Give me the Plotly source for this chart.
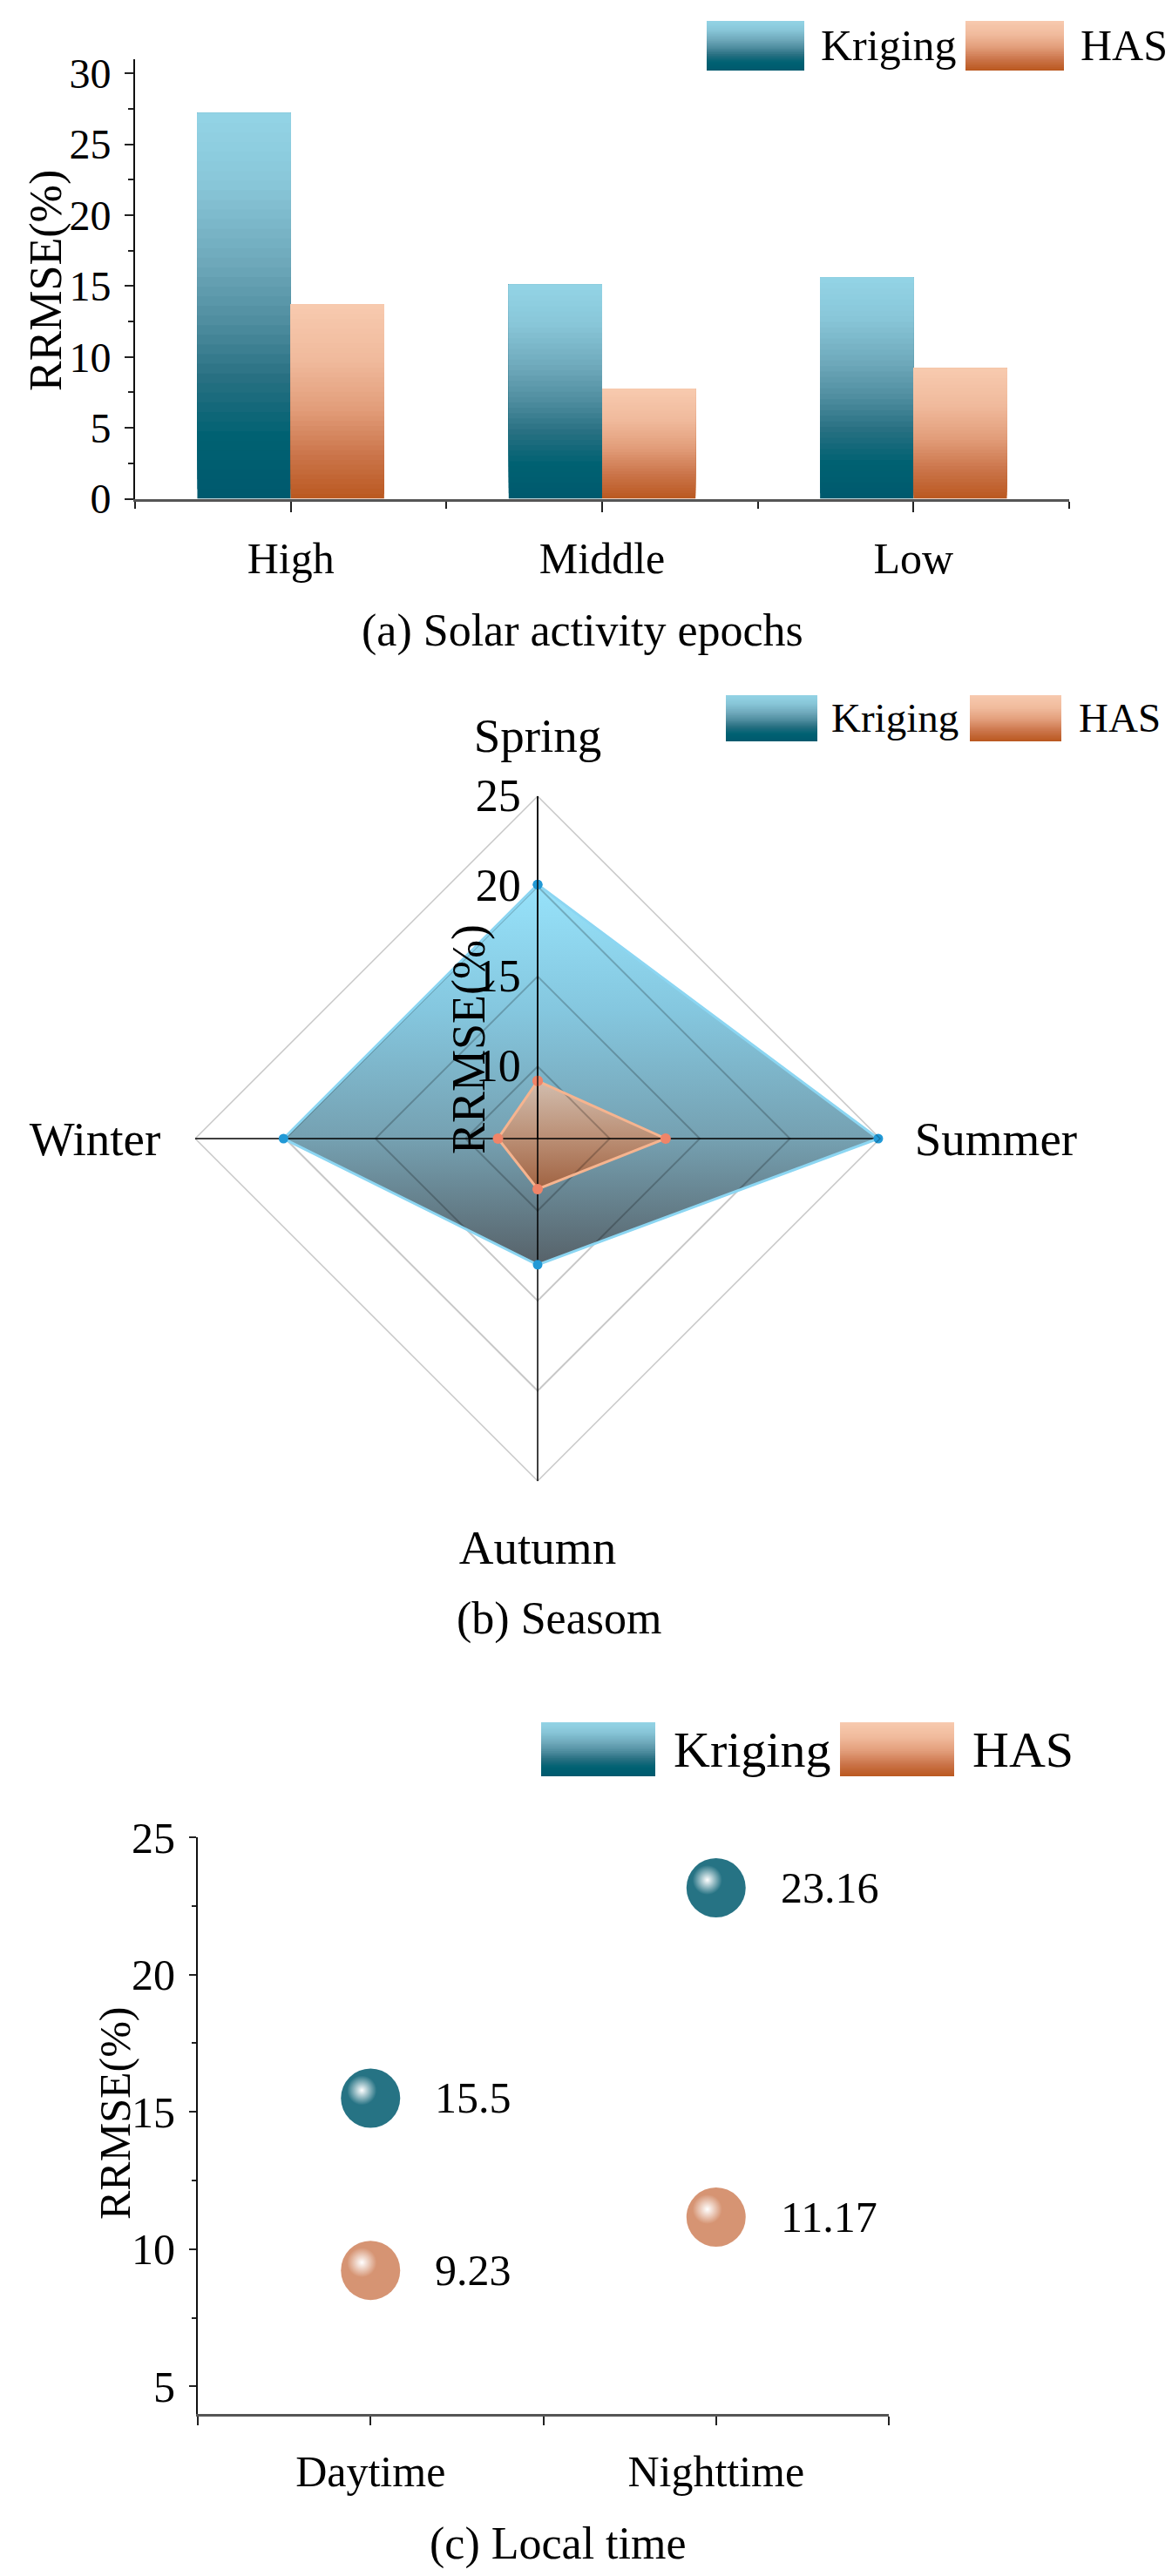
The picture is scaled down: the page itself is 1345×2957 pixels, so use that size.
import math
import plotly.graph_objects as go

W, H = 1345, 2957
FONT = "Liberation Serif"

# (a) Solar activity epochs
EPOCHS = ["High", "Middle", "Low"]
KRIGING_EPOCH = [27.2, 15.1, 15.6]
HAS_EPOCH = [13.7, 7.75, 9.2]

# (b) Season
SEASONS = ["Spring", "Summer", "Autumn", "Winter"]
KRIGING_SEASON = [20.1, 24.9, 13.0, 20.1]
HAS_SEASON = [9.2, 13.1, 8.8, 8.2]
R_MIN, R_MAX = 6, 25

# (c) Local time
TIMES = ["Daytime", "Nighttime"]
KRIGING_TIME = [15.5, 23.16]
HAS_TIME = [9.23, 11.17]

# colour stops, 0 = bottom, 1 = top
KRIGING_STOPS = [(0, (0, 90, 110)), (0.15, (0, 97, 114)), (0.3, (40, 112, 130)),
                 (0.45, (80, 142, 160)), (0.6, (110, 168, 186)), (0.8, (136, 198, 216)),
                 (1, (148, 213, 231))]
HAS_STOPS = [(0, (187, 90, 34)), (0.2, (202, 115, 72)), (0.45, (226, 157, 122)),
             (0.7, (240, 186, 156)), (1, (248, 203, 176))]


def fx(x):
    return x / W


def fy(y):
    return 1 - y / H


def mix(stops, f):
    for (p0, c0), (p1, c1) in zip(stops[:-1], stops[1:]):
        if p0 <= f <= p1:
            t = (f - p0) / (p1 - p0)
            c = [round(a + (b - a) * t) for a, b in zip(c0, c1)]
            break
    else:
        c = stops[-1][1]
    return "rgb(%d,%d,%d)" % tuple(c)


def swatch(x0, y0, x1, y1, stops, n=30):
    out = []
    for k in range(n):
        f = k / n
        out.append(dict(type="rect", xref="paper", yref="paper",
                        x0=fx(x0), x1=fx(x1),
                        y0=fy(y1) + (fy(y0) - fy(y1)) * f, y1=fy(y0),
                        fillcolor=mix(stops, f), line=dict(width=0), layer="above"))
    return out


def label(text, x, y, size, angle=0, anchor="center"):
    return dict(text=text, x=fx(x), y=fy(y), xref="paper", yref="paper",
                showarrow=False, textangle=angle, xanchor=anchor, yanchor="middle",
                font=dict(size=size, family=FONT, color="black"))


fig = go.Figure()
shapes = []
annotations = []

# ---------------- (a) bars with vertical gradient ----------------
N = 40
idx = list(range(len(EPOCHS)))
for vals, stops, off in [(KRIGING_EPOCH, KRIGING_STOPS, -0.3), (HAS_EPOCH, HAS_STOPS, 0.0)]:
    for k in range(N):
        f = k / N
        fig.add_trace(go.Bar(x=idx, y=[v * (1 - f) for v in vals], base=[v * f for v in vals],
                             offset=off, width=0.3,
                             marker=dict(color=mix(stops, f), line=dict(width=0)),
                             xaxis="x", yaxis="y", showlegend=False, hoverinfo="skip"))

# ---------------- (b) radar ----------------
def polar_xy(vals):
    n = len(vals)
    xs, ys = [], []
    for i, v in enumerate(vals + vals[:1]):
        a = math.radians(90 - 360 * i / n)
        xs.append((v - R_MIN) * math.cos(a))
        ys.append((v - R_MIN) * math.sin(a))
    return xs, ys


kx, ky = polar_xy(KRIGING_SEASON)
fig.add_trace(go.Scatter(x=kx, y=ky, xaxis="x2", yaxis="y2", mode="none", fill="toself",
                         fillgradient=dict(type="vertical", colorscale=[
                             [0, "rgba(72,84,92,0.92)"], [0.33, "rgba(105,152,170,0.92)"],
                             [0.67, "rgba(122,194,220,0.92)"], [1, "rgba(142,224,250,0.92)"]]),
                         showlegend=False, hoverinfo="skip"))
hx, hy = polar_xy(HAS_SEASON)
fig.add_trace(go.Scatter(x=hx, y=hy, xaxis="x2", yaxis="y2", mode="none", fill="toself",
                         fillgradient=dict(type="vertical", colorscale=[
                             [0, "rgba(165,95,58,0.92)"], [0.46, "rgba(192,140,110,0.92)"],
                             [1, "rgba(217,190,172,0.92)"]]),
                         showlegend=False, hoverinfo="skip"))

fig.add_trace(go.Scatterpolar(r=KRIGING_SEASON + KRIGING_SEASON[:1], theta=SEASONS + SEASONS[:1],
                              mode="lines+markers", line=dict(color="#8cd6f2", width=3),
                              marker=dict(color="#2199d6", size=11), subplot="polar",
                              showlegend=False))
fig.add_trace(go.Scatterpolar(r=HAS_SEASON + HAS_SEASON[:1], theta=SEASONS + SEASONS[:1],
                              mode="lines+markers", line=dict(color="#f6b48f", width=3),
                              marker=dict(color="#f08468", size=12), subplot="polar",
                              showlegend=False))

# ---------------- (c) local time bubbles ----------------
tx = list(range(len(TIMES)))
PX_X = 2.0 / (1012 - 219)
PX_Y = 21.0 / (2763 - 2101)
HL_DX, HL_DY = -10 * PX_X, 9 * PX_Y
for vals, col in [(KRIGING_TIME, "#267384"), (HAS_TIME, "#d69473")]:
    fig.add_trace(go.Scatter(x=tx, y=vals, xaxis="x3", yaxis="y3", mode="markers",
                             marker=dict(size=68, color=col, line=dict(width=0)),
                             showlegend=False, hoverinfo="skip"))
    fig.add_trace(go.Scatter(x=[i + HL_DX for i in tx], y=[v + HL_DY for v in vals],
                             xaxis="x3", yaxis="y3", mode="markers",
                             marker=dict(size=34, color=col, line=dict(width=0),
                                         gradient=dict(type="radial", color="white")),
                             showlegend=False, hoverinfo="skip"))
    for i, v in zip(tx, vals):
        annotations.append(dict(text=f"{v:g}", x=i, y=v, xref="x3", yref="y3", showarrow=False,
                                xanchor="left", yanchor="middle", xshift=72,
                                font=dict(size=50, family=FONT, color="black")))

# ---------------- legends, titles, captions ----------------
for (kx0, ky0, kx1, ky1), (hx0, hx1), (tk, th), size in [
        ((803, 16, 915, 73), (1100, 1213), (932, 1230), 50),
        ((825, 790, 930, 843), (1105, 1210), (944, 1228), 47),
        ((613, 1969, 744, 2031), (956, 1087), (763, 1106), 58)]:
    shapes += swatch(kx0, ky0, kx1, ky1, KRIGING_STOPS)
    shapes += swatch(hx0, ky0, hx1, ky1, HAS_STOPS)
    yc = (ky0 + ky1) / 2
    annotations.append(label("Kriging", tk, yc, size, anchor="left"))
    annotations.append(label("HAS", th, yc, size, anchor="left"))

annotations.append(label("RRMSE(%)", 45, 314, 52, angle=-90))
annotations.append(label("RRMSE(%)", 530, 1185, 54, angle=-90))
annotations.append(label("RRMSE(%)", 124, 2418, 50, angle=-90))
annotations.append(label("(a) Solar activity epochs", 660, 716, 52))
annotations.append(label("(b) Seasom", 633, 1850, 52))
annotations.append(label("(c) Local time", 632, 2912, 52))

tick_common = dict(ticks="outside", tickwidth=2, tickcolor="#222", showgrid=False,
                   zeroline=False, showline=True, automargin=False)

fig.update_layout(
    width=W, height=H, margin=dict(l=0, r=0, t=0, b=0, pad=0, autoexpand=False),
    paper_bgcolor="white", plot_bgcolor="rgba(0,0,0,0)",
    font=dict(family=FONT, color="black"),
    barmode="overlay", showlegend=False,
    xaxis=dict(domain=[fx(147), fx(1219)], range=[-0.5, 2.5], tickvals=idx, ticktext=EPOCHS,
               ticklen=12, linecolor="#555", linewidth=3, tickfont=dict(size=50),
               ticklabelstandoff=10, anchor="y",
               minor=dict(tickvals=[-0.5, 0.5, 1.5, 2.5], ticks="outside", ticklen=8,
                          tickwidth=2, tickcolor="#222"),
               **tick_common),
    yaxis=dict(domain=[fy(564.5), fy(60)], range=[0, 31], tick0=0, dtick=5, ticklen=10,
               linecolor="#111", linewidth=2, tickfont=dict(size=48), ticklabelstandoff=6,
               anchor="x",
               minor=dict(tick0=2.5, dtick=5, ticks="outside", ticklen=6, tickwidth=2,
                          tickcolor="#222"),
               **tick_common),
    xaxis2=dict(domain=[fx(216), fx(1002)], range=[-(R_MAX - R_MIN), R_MAX - R_MIN],
                visible=False, anchor="y2", automargin=False),
    yaxis2=dict(domain=[fy(1692), fy(906)], range=[-(R_MAX - R_MIN), R_MAX - R_MIN],
                visible=False, anchor="x2", automargin=False),
    xaxis3=dict(domain=[fx(219), fx(1012)], range=[-0.5, 1.5], tickvals=tx, ticktext=TIMES,
                ticklen=10, linecolor="#555", linewidth=3, tickfont=dict(size=50),
                ticklabelstandoff=10, anchor="y3",
                minor=dict(tickvals=[-0.5, 0.5, 1.5], ticks="outside", ticklen=10,
                           tickwidth=2, tickcolor="#222"),
                **tick_common),
    yaxis3=dict(domain=[fy(2763), fy(2101)], range=[4, 25], tick0=0, dtick=5, ticklen=8,
                linecolor="#111", linewidth=2, tickfont=dict(size=50), ticklabelstandoff=6,
                anchor="x3",
                minor=dict(tick0=2.5, dtick=5, ticks="outside", ticklen=5, tickwidth=2,
                           tickcolor="#222"),
                **tick_common),
    polar=dict(
        domain=dict(x=[fx(216), fx(1002)], y=[fy(1692), fy(906)]),
        bgcolor="rgba(0,0,0,0)", gridshape="linear",
        radialaxis=dict(range=[R_MIN, R_MAX], angle=90, tickangle=90, tickvals=[10, 15, 20, 25],
                        tickfont=dict(size=52), showline=True, linecolor="rgba(0,0,0,0.7)",
                        linewidth=2, gridcolor="rgba(0,0,0,0.22)", gridwidth=1.5, ticks="",
                        side="counterclockwise"),
        angularaxis=dict(type="category", rotation=90, direction="clockwise",
                         categoryarray=SEASONS, gridcolor="rgba(0,0,0,0.75)", gridwidth=2,
                         showline=True, linecolor="rgba(0,0,0,0.22)", linewidth=1.5,
                         tickfont=dict(size=55), ticks="outside", ticklen=28,
                         tickcolor="rgba(0,0,0,0)")),
    shapes=shapes,
    annotations=annotations,
)

fig.write_html("out.html")
